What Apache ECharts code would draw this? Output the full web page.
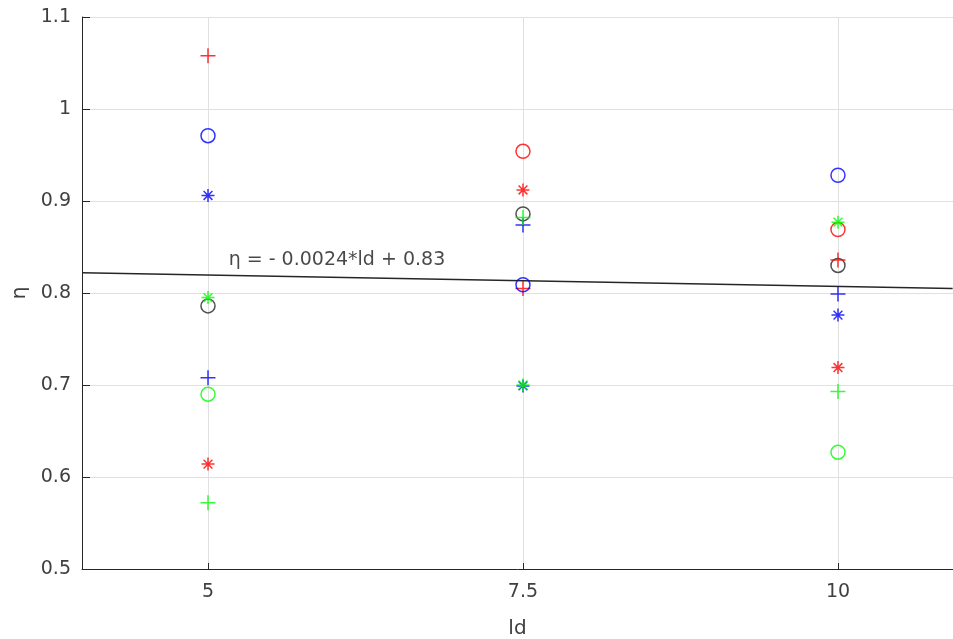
<!DOCTYPE html>
<html>
<head>
<meta charset="utf-8">
<script src="https://cdn.jsdelivr.net/npm/echarts@6/dist/echarts.min.js"></script>
<style>
html,body{margin:0;padding:0;background:#fff;}
#chart{width:953px;height:639px;}
</style>
</head>
<body>
<div id="chart"></div>
<script>
// ---- data ----
var ld = [5, 7.5, 10];
var xTicks = [5, 7.5, 10];

var redPlus     = [1.058, 0.805, 0.836];
var redCircle   = [null,  0.954, 0.869];
var redStar     = [0.614, 0.912, 0.719];
var bluePlus    = [0.708, 0.874, 0.799];
var blueCircle  = [0.971, 0.809, 0.928];
var blueStar    = [0.906, 0.699, 0.776];
var greenPlus   = [0.572, 0.882, 0.693];
var greenCircle = [0.690, null,  0.627];
var greenStar   = [0.795, 0.700, 0.877];
var blackCircle = [0.786, 0.886, 0.830];

var trendX = [4, 10.91];
var trendY = [0.822, 0.805];
var trendLabel = 'η = - 0.0024*ld + 0.83';
var trendLabelPos = [5.16, 0.836];

// ---- chart ----
var FONT = '"DejaVu Sans", "Liberation Sans", Arial, sans-serif';
var TXT = '#404040';
var PLUS = 'path://M5,0L5,10M0,5L10,5';
var STAR = 'path://M5,0L5,10M0,5L10,5M1.6,1.6L8.4,8.4M8.4,1.6L1.6,8.4';

function pts(vals) {
  var out = [];
  for (var i = 0; i < ld.length; i++) {
    if (vals[i] != null) out.push([ld[i], vals[i]]);
  }
  return out;
}
function mk(name, vals, color, kind) {
  var sym = kind === 'o' ? 'circle' : (kind === '+' ? PLUS : STAR);
  return {
    name: name,
    type: 'scatter',
    data: pts(vals),
    symbol: sym,
    symbolSize: kind === 'o' ? 14 : (kind === '+' ? 15 : 13),
    itemStyle: { color: 'rgba(0,0,0,0)', borderColor: color, borderWidth: 1.5 },
    emphasis: { disabled: true },
    silent: true,
    z: 3
  };
}

var chart = echarts.init(document.getElementById('chart'), null, { renderer: 'canvas' });
chart.setOption({
  animation: false,
  backgroundColor: '#fff',
  grid: { left: 82, top: 17, right: 0, bottom: 70, containLabel: false, outerBoundsMode: 'none' },
  xAxis: {
    type: 'value',
    min: 4,
    max: 10.913,
    name: 'ld',
    nameLocation: 'middle',
    nameGap: 50,
    nameTextStyle: { fontFamily: FONT, fontSize: 20, color: TXT },
    axisLine: { show: true, onZero: false, lineStyle: { color: '#262626', width: 1 } },
    axisTick: { show: true, inside: true, length: 6, customValues: xTicks, lineStyle: { color: '#262626' } },
    axisLabel: { customValues: xTicks, fontFamily: FONT, fontSize: 19, color: TXT, margin: 14 },
    splitLine: { show: true, lineStyle: { color: '#e0e0e0', width: 1 } }
  },
  yAxis: {
    type: 'value',
    min: 0.5,
    max: 1.1,
    interval: 0.1,
    name: 'η',
    nameLocation: 'middle',
    nameGap: 49,
    nameRotate: 90,
    nameTextStyle: { fontFamily: FONT, fontSize: 20, color: TXT },
    axisLine: { show: true, onZero: false, lineStyle: { color: '#262626', width: 1 } },
    axisTick: { show: true, inside: true, length: 8, lineStyle: { color: '#262626' } },
    axisLabel: {
      fontFamily: FONT, fontSize: 19, color: TXT, margin: 11,
      formatter: function (v) { return String(Math.round(v * 10) / 10); }
    },
    splitLine: { show: true, lineStyle: { color: '#e0e0e0', width: 1 } }
  },
  series: [
    {
      name: 'trend',
      type: 'line',
      data: [[trendX[0], trendY[0]], [trendX[1], trendY[1]]],
      symbol: 'none',
      lineStyle: { color: '#262626', width: 1.5 },
      silent: true,
      z: 2
    },
    {
      name: 'trendLabel',
      type: 'scatter',
      data: [trendLabelPos],
      symbolSize: 1,
      itemStyle: { color: 'rgba(0,0,0,0)' },
      label: {
        show: true, position: 'right', distance: 0,
        formatter: trendLabel,
        fontFamily: FONT, fontSize: 19, color: '#1a1a1a'
      },
      silent: true,
      z: 4
    },
    mk('blackCircle', blackCircle, '#262626', 'o'),
    mk('redPlus', redPlus, '#ff0000', '+'),
    mk('redCircle', redCircle, '#ff0000', 'o'),
    mk('redStar', redStar, '#ff0000', '*'),
    mk('bluePlus', bluePlus, '#0000ff', '+'),
    mk('blueCircle', blueCircle, '#0000ff', 'o'),
    mk('blueStar', blueStar, '#0000ff', '*'),
    mk('greenPlus', greenPlus, '#00ff00', '+'),
    mk('greenCircle', greenCircle, '#00ff00', 'o'),
    mk('greenStar', greenStar, '#00ff00', '*')
  ]
});
</script>
</body>
</html>
